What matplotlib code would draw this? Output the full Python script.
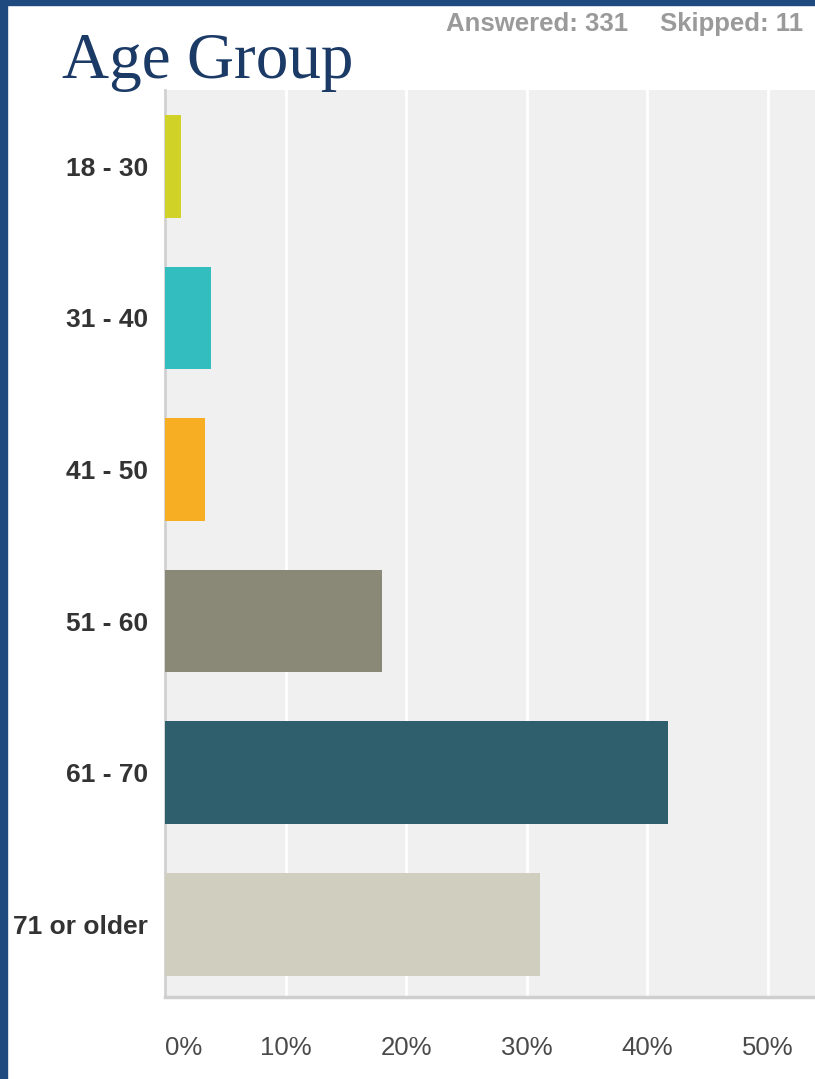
import matplotlib.pyplot as plt
from matplotlib.patches import Rectangle

# survey answers (percent of respondents)
age_groups = ['18 - 30', '31 - 40', '41 - 50', '51 - 60', '61 - 70', '71 or older']
percents = [1.3, 3.8, 3.3, 18.0, 41.7, 31.1]
bar_colors = ['#d1d227', '#33bdbf', '#f7ae22', '#8a8977', '#2f5f6d', '#cfcebf']
x_ticks = [0, 10, 20, 30, 40, 50]
x_tick_labels = ['0%', '10%', '20%', '30%', '40%', '50%']

W, H = 815, 1079
fig = plt.figure(figsize=(W / 100, H / 100), dpi=100)
fig.patch.set_facecolor('white')

# navy frame on left and top
navy = '#1f4a80'
fig.patches.append(Rectangle((0, 0), 7 / W, 1, transform=fig.transFigure, color=navy, zorder=5))
fig.patches.append(Rectangle((0, 1 - 5 / H), 1, 5 / H, transform=fig.transFigure, color=navy, zorder=5))

ax = fig.add_axes([165 / W, 82 / H, (W - 165) / W, (997 - 90) / H])
ax.set_facecolor('#f0f0f0')

ax.barh(range(len(age_groups)), percents, height=0.677, color=bar_colors, zorder=3)

ax.set_xlim(0, 53.9)
ax.set_ylim(5.48, -0.503)
ax.set_xticks(x_ticks)
ax.set_xticklabels(x_tick_labels, fontsize=18.5, color='#4a4a4a', family='Liberation Sans')
ax.get_xticklabels()[0].set_ha('left')
ax.tick_params(axis='x', length=0, pad=28)
ax.set_yticks(range(len(age_groups)))
ax.set_yticklabels(age_groups, fontsize=19, fontweight='bold', color='#333333',
                   family='Liberation Sans')
ax.tick_params(axis='y', length=0, pad=12)

ax.grid(axis='x', color='white', linewidth=2, zorder=1)
ax.grid(axis='y', visible=False)
for s in ['top', 'right']:
    ax.spines[s].set_visible(False)
ax.spines['left'].set_color('#d0d0d0')
ax.spines['left'].set_linewidth(2)
ax.spines['bottom'].set_color('#cfcfcf')
ax.spines['bottom'].set_linewidth(2.5)

fig.text(62 / W, 1 - 78 / H, 'Age Group', fontsize=47, family='Liberation Serif',
         color='#1b3a66', va='baseline', ha='left')
fig.text(628 / W, 1 - 31 / H, 'Answered: 331', fontsize=18.5, fontweight='bold',
         color='#9a9a9a', family='Liberation Sans', ha='right', va='baseline')
fig.text(660 / W, 1 - 31 / H, 'Skipped: 11', fontsize=18.5, fontweight='bold',
         color='#9a9a9a', family='Liberation Sans', ha='left', va='baseline')

fig.savefig('out.png', dpi=100)
